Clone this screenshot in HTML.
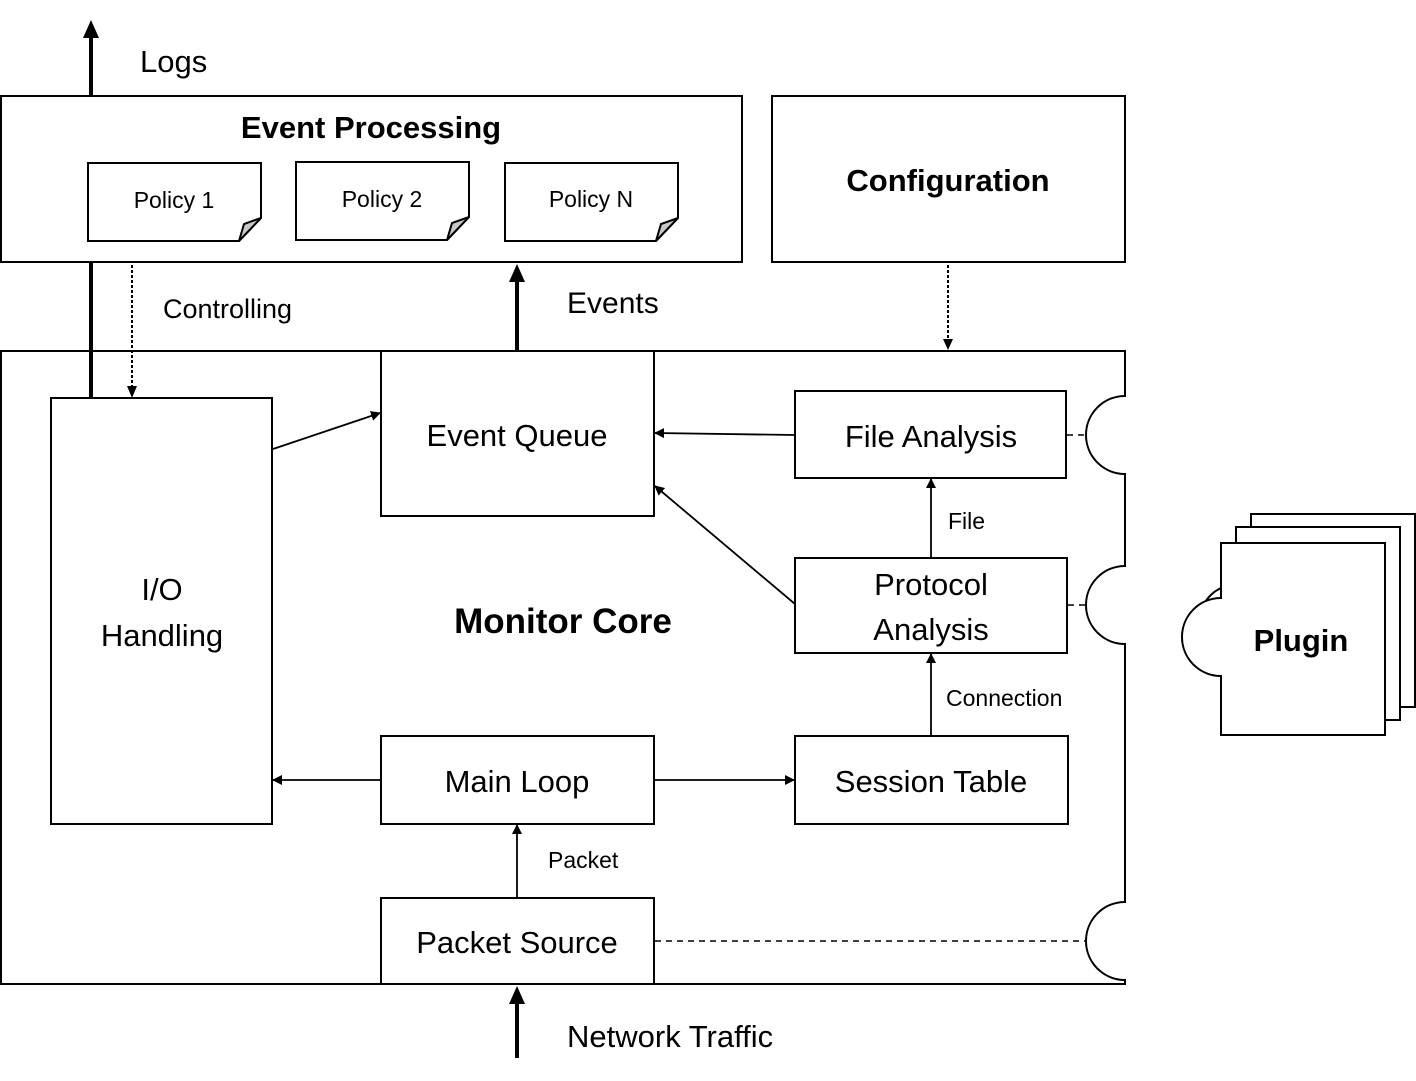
<!DOCTYPE html>
<html><head><meta charset="utf-8"><style>
html,body{margin:0;padding:0;background:#fff;}
svg{display:block;}
text{font-family:"Liberation Sans",sans-serif;fill:#000;}
</style></head><body>
<svg width="1416" height="1081" viewBox="0 0 1416 1081" xmlns="http://www.w3.org/2000/svg">
<defs>
<marker id="a" markerWidth="10" markerHeight="10" refX="9" refY="5" orient="auto" markerUnits="userSpaceOnUse"><path d="M0,0 L10,5 L0,10 z" fill="#000"/></marker>
</defs>
<g fill="none" stroke="#000" stroke-width="2">
<rect x="1" y="96" width="741" height="166" fill="#fff"/>
<rect x="772" y="96" width="353" height="166" fill="#fff"/>
<path d="M88,163 H261 V218 L239,241 H88 Z" fill="#fff"/>
<path d="M261,218 L239,241 L244,224 Z" fill="#c8c8c8"/>
<path d="M296,162 H469 V217 L447,240 H296 Z" fill="#fff"/>
<path d="M469,217 L447,240 L452,223 Z" fill="#c8c8c8"/>
<path d="M505,163 H678 V218 L656,241 H505 Z" fill="#fff"/>
<path d="M678,218 L656,241 L661,224 Z" fill="#c8c8c8"/>
<path d="M1,351 H1125 V396 A39,39 0 0 0 1125,474 V566 A39,39 0 0 0 1125,644 V902 A39,39 0 0 0 1125,980 V984 H1 Z"/>
<rect x="51" y="398" width="221" height="426"/>
<rect x="381" y="351" width="273" height="165"/>
<rect x="795" y="391" width="271" height="87"/>
<rect x="795" y="558" width="272" height="95"/>
<rect x="381" y="736" width="273" height="88"/>
<rect x="795" y="736" width="273" height="88"/>
<rect x="381" y="898" width="273" height="86"/>
<rect x="1251" y="514" width="164" height="193" fill="#fff"/>
<rect x="1236" y="527" width="164" height="193" fill="#fff"/>
<path d="M1221,588 A38,38 0 0 0 1204,604" />
<path d="M1221,543 H1385 V735 H1221 V676 A39,39 0 0 1 1221,598 Z" fill="#fff"/>
</g>
<g stroke="#000" stroke-width="4" fill="none">
<line x1="91" y1="95" x2="91" y2="36"/>
<line x1="91" y1="397" x2="91" y2="263"/>
<line x1="517" y1="350" x2="517" y2="280"/>
<line x1="517" y1="1058" x2="517" y2="1002"/>
</g>
<path d="M83,38 L91,20 L99,38 Z" fill="#000"/>
<path d="M509,282 L517,264 L525,282 Z" fill="#000"/>
<path d="M509,1004 L517,986 L525,1004 Z" fill="#000"/>
<g stroke="#000" stroke-width="2" stroke-dasharray="3,2" fill="none">
<line x1="132" y1="265" x2="132" y2="388"/>
<line x1="948" y1="265" x2="948" y2="341"/>
</g>
<path d="M127,386 L132,398 L137,386 Z" fill="#000"/>
<path d="M943,339 L948,350 L953,339 Z" fill="#000"/>
<g stroke="#000" stroke-width="1.5" stroke-dasharray="6,5" fill="none">
<line x1="1067" y1="435" x2="1086" y2="435"/>
<line x1="1068" y1="605" x2="1086" y2="605"/>
<line x1="655" y1="941" x2="1086" y2="941"/>
</g>
<g stroke="#000" stroke-width="1.8" fill="none" marker-end="url(#a)">
<line x1="273" y1="449" x2="380" y2="413"/>
<line x1="795" y1="435" x2="655" y2="433"/>
<line x1="795" y1="604" x2="655" y2="486"/>
<line x1="931" y1="558" x2="931" y2="479"/>
<line x1="931" y1="736" x2="931" y2="654"/>
<line x1="381" y1="780" x2="273" y2="780"/>
<line x1="654" y1="780" x2="794" y2="780"/>
<line x1="517" y1="898" x2="517" y2="825"/>
</g>
<text x="140" y="72" font-size="31">Logs</text>
<text x="371" y="138" font-size="31" font-weight="bold" text-anchor="middle">Event Processing</text>
<text x="948" y="191" font-size="31" font-weight="bold" text-anchor="middle">Configuration</text>
<text x="174" y="208" font-size="23" text-anchor="middle">Policy 1</text>
<text x="382" y="207" font-size="23" text-anchor="middle">Policy 2</text>
<text x="591" y="207" font-size="23" text-anchor="middle">Policy N</text>
<text x="163" y="318" font-size="27">Controlling</text>
<text x="567" y="313" font-size="30">Events</text>
<text x="517" y="446" font-size="31" text-anchor="middle">Event Queue</text>
<text x="931" y="447" font-size="31" text-anchor="middle">File Analysis</text>
<text x="931" y="595" font-size="31" text-anchor="middle">Protocol</text>
<text x="931" y="640" font-size="31" text-anchor="middle">Analysis</text>
<text x="162" y="600" font-size="31" text-anchor="middle">I/O</text>
<text x="162" y="646" font-size="31" text-anchor="middle">Handling</text>
<text x="563" y="633" font-size="35" font-weight="bold" text-anchor="middle">Monitor Core</text>
<text x="517" y="792" font-size="31" text-anchor="middle">Main Loop</text>
<text x="931" y="792" font-size="31" text-anchor="middle">Session Table</text>
<text x="517" y="953" font-size="31" text-anchor="middle">Packet Source</text>
<text x="948" y="529" font-size="23">File</text>
<text x="946" y="706" font-size="23">Connection</text>
<text x="548" y="868" font-size="23">Packet</text>
<text x="567" y="1047" font-size="31">Network Traffic</text>
<text x="1301" y="651" font-size="31" font-weight="bold" text-anchor="middle">Plugin</text>
</svg>
</body></html>
